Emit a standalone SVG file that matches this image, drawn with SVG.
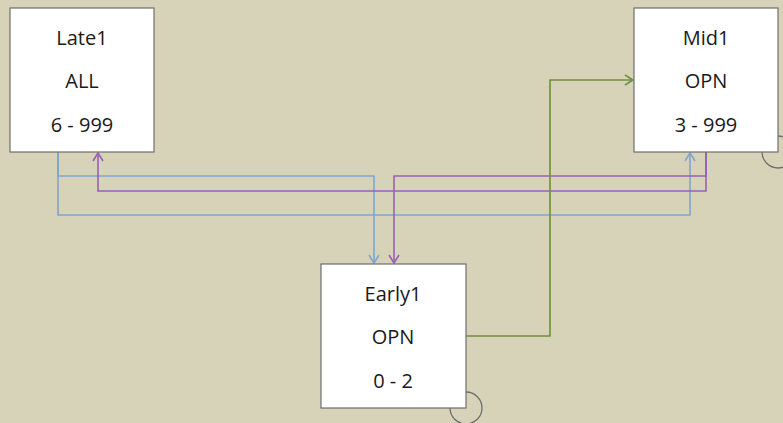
<svg xmlns="http://www.w3.org/2000/svg" width="783" height="423" viewBox="0 0 783 423">
  <defs>
    <style>
      .node rect { fill: #ffffff; stroke: #6e6e6e; stroke-width: 1.2; }
      .node text { font-family: "Open Sans", "Liberation Sans", sans-serif; font-size: 20px; fill: #1a1a1a; text-anchor: middle; }
      .anchor { fill: none; stroke: #6e6e6e; stroke-width: 1.3; }
      .wire { fill: none; stroke-width: 1.6; }
      .blue { stroke: #7ea6d2; }
      .purple { stroke: #9a5fb8; }
      .green { stroke: #6f8f3d; }
    </style>
    <marker id="arrBlue" viewBox="0 0 10 12" refX="9" refY="6" markerWidth="10" markerHeight="12" markerUnits="userSpaceOnUse" orient="auto">
      <path d="M1 1 L9 6 L1 11" fill="none" stroke="#7ea6d2" stroke-width="1.6"/>
    </marker>
    <marker id="arrPurple" viewBox="0 0 10 12" refX="9" refY="6" markerWidth="10" markerHeight="12" markerUnits="userSpaceOnUse" orient="auto">
      <path d="M1 1 L9 6 L1 11" fill="none" stroke="#9a5fb8" stroke-width="1.6"/>
    </marker>
    <marker id="arrGreen" viewBox="0 0 10 12" refX="9" refY="6" markerWidth="10" markerHeight="12" markerUnits="userSpaceOnUse" orient="auto">
      <path d="M1 1 L9 6 L1 11" fill="none" stroke="#6f8f3d" stroke-width="1.6"/>
    </marker>
  </defs>

  <rect x="0" y="0" width="783" height="423" fill="#d7d3b9"/>

  <!-- corner anchors -->
  <circle class="anchor" cx="778" cy="152" r="16"/>
  <circle class="anchor" cx="466" cy="408" r="16"/>

  <g id="connectors">
    <path class="wire blue" d="M58 152 V176 H374 V263" marker-end="url(#arrBlue)"/>
    <path class="wire blue" d="M58 152 V215 H690 V153" marker-end="url(#arrBlue)"/>
    <path class="wire purple" d="M706 152 V176 H394 V263" marker-end="url(#arrPurple)"/>
    <path class="wire purple" d="M706 152 V191 H98 V153" marker-end="url(#arrPurple)"/>
    <path class="wire green" d="M466 336 H550 V80 H633" marker-end="url(#arrGreen)"/>
  </g>

  <g id="late1" class="node">
    <rect x="10" y="8" width="144" height="144"/>
    <text x="82" y="45">Late1</text>
    <text x="82" y="88">ALL</text>
    <text x="82" y="132">6 - 999</text>
  </g>

  <g id="mid1" class="node">
    <rect x="634" y="8" width="144" height="144"/>
    <text x="706" y="45">Mid1</text>
    <text x="706" y="88">OPN</text>
    <text x="706" y="132">3 - 999</text>
  </g>

  <g id="early1" class="node">
    <rect x="321" y="264" width="145" height="144"/>
    <text x="393" y="301">Early1</text>
    <text x="393" y="344">OPN</text>
    <text x="393" y="388">0 - 2</text>
  </g>
</svg>
